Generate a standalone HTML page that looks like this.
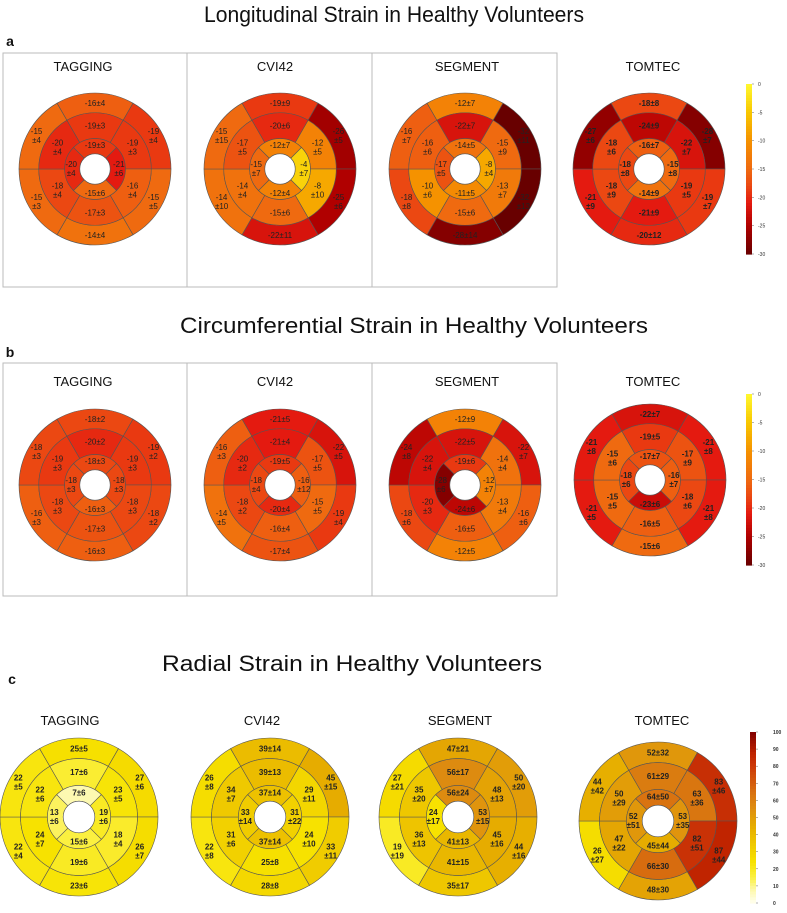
<!DOCTYPE html>
<html><head><meta charset="utf-8"><style>
body{margin:0;background:#fff;}
svg{display:block;font-family:"Liberation Sans",sans-serif;}
</style></head><body>
<svg id="fig" width="787" height="913" viewBox="0 0 787 913" xmlns="http://www.w3.org/2000/svg"></svg>
<script>
// Order per plot: outer [top, upper-right, lower-right, bottom, lower-left, upper-left], middle same, inner [top, right, bottom, left]
const methods = ["TAGGING","CVI42","SEGMENT","TOMTEC"];
const longOuter = [
 [["-16","4"],["-19","4"],["-15","5"],["-14","4"],["-15","3"],["-15","4"]],
 [["-19","9"],["-26","5"],["-25","6"],["-22","11"],["-14","10"],["-15","15"]],
 [["-12","7"],["-32","11"],["-32","13"],["-28","14"],["-18","8"],["-16","7"]],
 [["-18","8"],["-28","7"],["-19","7"],["-20","12"],["-21","9"],["-27","6"]]];
const longMid = [
 [["-19","3"],["-19","3"],["-16","4"],["-17","3"],["-18","4"],["-20","4"]],
 [["-20","6"],["-12","5"],["-8","10"],["-15","6"],["-14","4"],["-17","5"]],
 [["-22","7"],["-15","9"],["-13","7"],["-15","6"],["-10","6"],["-16","6"]],
 [["-24","9"],["-22","7"],["-19","5"],["-21","9"],["-18","9"],["-18","6"]]];
const longInner = [
 [["-19","3"],["-21","6"],["-15","6"],["-20","4"]],
 [["-12","7"],["-4","7"],["-12","4"],["-15","7"]],
 [["-14","5"],["-8","4"],["-11","5"],["-17","5"]],
 [["-16","7"],["-15","8"],["-14","9"],["-18","8"]]];
const circOuter = [
 [["-18","2"],["-19","2"],["-18","2"],["-16","3"],["-16","3"],["-18","3"]],
 [["-21","5"],["-22","5"],["-19","4"],["-17","4"],["-14","5"],["-16","3"]],
 [["-12","9"],["-22","7"],["-16","6"],["-12","5"],["-18","6"],["-24","8"]],
 [["-22","7"],["-21","8"],["-21","8"],["-15","6"],["-21","5"],["-21","8"]]];
const circMid = [
 [["-20","2"],["-19","3"],["-18","3"],["-17","3"],["-18","3"],["-19","3"]],
 [["-21","4"],["-17","5"],["-15","5"],["-16","4"],["-18","2"],["-20","2"]],
 [["-22","5"],["-14","4"],["-13","4"],["-16","5"],["-20","3"],["-22","4"]],
 [["-19","5"],["-17","9"],["-18","6"],["-16","5"],["-15","5"],["-15","6"]]];
const circInner = [
 [["-18","3"],["-18","3"],["-16","3"],["-18","3"]],
 [["-19","5"],["-16","12"],["-20","4"],["-18","4"]],
 [["-19","6"],["-12","7"],["-24","6"],["-28","6"]],
 [["-17","7"],["-16","7"],["-23","6"],["-18","6"]]];
const radOuter = [
 [["25","5"],["27","6"],["26","7"],["23","6"],["22","4"],["22","5"]],
 [["39","14"],["45","15"],["33","11"],["28","8"],["22","8"],["26","8"]],
 [["47","21"],["50","20"],["44","16"],["35","17"],["19","19"],["27","21"]],
 [["52","32"],["83","46"],["87","44"],["48","30"],["26","27"],["44","42"]]];
const radMid = [
 [["17","6"],["23","5"],["18","4"],["19","6"],["24","7"],["22","6"]],
 [["39","13"],["29","11"],["24","10"],["25","8"],["31","6"],["34","7"]],
 [["56","17"],["48","13"],["45","16"],["41","15"],["36","13"],["35","20"]],
 [["61","29"],["63","36"],["82","51"],["66","30"],["47","22"],["50","29"]]];
const radInner = [
 [["7","6"],["19","6"],["15","6"],["13","6"]],
 [["37","14"],["31","22"],["37","14"],["33","14"]],
 [["56","24"],["53","15"],["41","13"],["24","17"]],
 [["64","50"],["53","35"],["45","44"],["52","51"]]];
const negTicks = ["0","-5","-10","-15","-20","-25","-30"];
const radTicks = ["100","90","80","70","60","50","40","30","20","10","0"];

const NS="http://www.w3.org/2000/svg";
const svg=document.getElementById('fig');
function mk(tag,attrs,parent){const e=document.createElementNS(NS,tag);for(const k in attrs)e.setAttribute(k,attrs[k]);(parent||svg).appendChild(e);return e;}
function lerpHex(a,b,t){const pa=[1,3,5].map(i=>parseInt(a.substr(i,2),16)),pb=[1,3,5].map(i=>parseInt(b.substr(i,2),16));return 'rgb('+pa.map((v,i)=>Math.round(v+(pb[i]-v)*t)).join(',')+')';}
function cmap(stops,v){if(v<=stops[0][0])return stops[0][1];for(let i=1;i<stops.length;i++){if(v<=stops[i][0]){const t=(v-stops[i-1][0])/(stops[i][0]-stops[i-1][0]);return lerpHex(stops[i-1][1],stops[i][1],t);}}return stops[stops.length-1][1];}
const negStops=[[0,"#fff830"],[5,"#f8c800"],[10,"#f59200"],[15,"#ef6a10"],[18,"#eb4812"],[21,"#e41a10"],[25,"#b00000"],[30,"#680000"]];
const radStops=[[0,"#fffff0"],[8,"#fdf8a8"],[15,"#fbf040"],[24,"#f7e200"],[33,"#f0cc00"],[45,"#e6ac00"],[55,"#de8e10"],[65,"#d87010"],[80,"#cc3808"],[87,"#c02400"],[100,"#800000"]];
function colorFor(kind,v){return kind==='rad'?cmap(radStops,v):cmap(negStops,-v);}

function arcPath(cx,cy,r1,r2,a1,a2){const p=(r,a)=>[cx+r*Math.cos(a*Math.PI/180),cy-r*Math.sin(a*Math.PI/180)];
 const [x1,y1]=p(r2,a1),[x2,y2]=p(r2,a2),[x3,y3]=p(r1,a2),[x4,y4]=p(r1,a1);
 return `M${x1},${y1} A${r2},${r2} 0 0 0 ${x2},${y2} L${x3},${y3} A${r1},${r1} 0 0 1 ${x4},${y4} Z`;}

function label(g,x,y,d,bold,twoLine){const t=mk('text',{x:x,y:y,'text-anchor':'middle','font-size':'8','fill':'#222','font-weight':bold?'bold':'normal'},g);
 if(twoLine){t.setAttribute('y',y-2);const s1=mk('tspan',{x:x,dy:'0'},t);s1.textContent=d[0];const s2=mk('tspan',{x:x,dy:'9'},t);s2.textContent='±'+d[1];}
 else{t.setAttribute('y',y+3);t.textContent=d[0]+'±'+d[1];}}

function bullseye(cx,cy,R,outer,mid,inner,kind,bold,name){
 const g=mk('g',{});
 
 
 const r1=R*0.74,r0=R*0.40,rh=R*0.20;
 const centers6=[90,30,-30,-90,-150,150];
 for(let i=0;i<6;i++){const a=centers6[i];
  const p=mk('path',{d:arcPath(cx,cy,r1,R,a-30,a+30),fill:colorFor(kind,+outer[i][0]),stroke:'#555','stroke-width':'0.6'},g);
  
  
  const q=mk('path',{d:arcPath(cx,cy,r0,r1,a-30,a+30),fill:colorFor(kind,+mid[i][0]),stroke:'#555','stroke-width':'0.6'},g);
  
  }
 const centers4=[90,0,-90,180];
 for(let i=0;i<4;i++){const a=centers4[i];
  const p=mk('path',{d:arcPath(cx,cy,rh,r0,a-45,a+45),fill:colorFor(kind,+inner[i][0]),stroke:'#555','stroke-width':'0.6'},g);
  
  }
 mk('circle',{cx:cx,cy:cy,r:rh,fill:'#fff',stroke:'#555','stroke-width':'0.6'},g);
 for(let i=0;i<6;i++){const a=centers6[i]*Math.PI/180;const two=(i!==0&&i!==3);
  const ro=(R+r1)/2,rm=(r1+r0)/2;
  label(g,cx+ro*Math.cos(a)*(two?1.02:1),cy-ro*Math.sin(a),outer[i],bold,two);
  label(g,cx+rm*Math.cos(a),cy-rm*Math.sin(a),mid[i],bold,two);}
 for(let i=0;i<4;i++){const a=centers4[i]*Math.PI/180;const two=(i===1||i===3);const ri=(r0+rh)/2+1;
  label(g,cx+ri*Math.cos(a),cy-ri*Math.sin(a),inner[i],bold,two);}
}
function txt(x,y,s,size,name,extra){const t=mk('text',Object.assign({x:x,y:y,'text-anchor':'middle','font-size':size,fill:'#111'},extra||{}));t.textContent=s;
 
 return t;}
function colorbar(x,y0,y1,kind,ticks,name,labelX,fs){
 const g=mk('g',{});
 
 
 const n=60;for(let i=0;i<n;i++){const t=i/n;const v=kind==='rad'?100*(1-t-0.5/n):-30*(t+0.5/n);
  mk('rect',{x:x,y:y0+(y1-y0)*t,width:6,height:(y1-y0)/n+0.6,fill:colorFor(kind,v)},g);}
 ticks.forEach((s,i)=>{const yy=y0+(y1-y0)*i/(ticks.length-1);mk('line',{x1:x+6,x2:x+8,y1:yy,y2:yy,stroke:'#666','stroke-width':'0.5'},g);
  const t=mk('text',{x:labelX,y:yy+2,'font-size':fs,fill:'#333','font-weight':kind==='rad'?'bold':'normal'},g);t.textContent=s;});
}

// titles
txt(394,22,"Longitudinal Strain in Healthy Volunteers",22,'title-longitudinal',{textLength:380,lengthAdjust:'spacingAndGlyphs'});
txt(414,333,"Circumferential Strain in Healthy Volunteers",22,'title-circumferential',{textLength:468,lengthAdjust:'spacingAndGlyphs'});
txt(352,671,"Radial Strain in Healthy Volunteers",22,'title-radial',{textLength:380,lengthAdjust:'spacingAndGlyphs'});
txt(10,46,"a",14,'panel-label-a',{'font-weight':'bold'});
txt(10,357,"b",14,'panel-label-b',{'font-weight':'bold'});
txt(12,684,"c",14,'panel-label-c',{'font-weight':'bold'});

// boxes
[[53,287],[363,596]].forEach((b,k)=>{
 const r=mk('rect',{x:3,y:b[0],width:554,height:b[1]-b[0],fill:'none',stroke:'#bbb','stroke-width':'1'});
 
 
 [187,372].forEach(x=>mk('line',{x1:x,x2:x,y1:b[0],y2:b[1],stroke:'#bbb','stroke-width':'1'}));
});

const aCx=[95,280,465,649], aTx=[83,275,467,653];
for(let i=0;i<4;i++){
 txt(aTx[i],71,methods[i],13,'long-title-'+methods[i].toLowerCase());
 bullseye(aCx[i],169,76,longOuter[i],longMid[i],longInner[i],'neg',i===3,'long-bullseye-'+methods[i].toLowerCase());
 txt(aTx[i],386,methods[i],13,'circ-title-'+methods[i].toLowerCase());
 bullseye(i===3?650:aCx[i],i===3?480:485,76,circOuter[i],circMid[i],circInner[i],'neg',i===3,'circ-bullseye-'+methods[i].toLowerCase());
}
const cCx=[79,270,458,658], cTx=[70,262,460,662];
for(let i=0;i<4;i++){
 txt(cTx[i],725,methods[i],13,'rad-title-'+methods[i].toLowerCase());
 bullseye(cCx[i],i===3?821:817,79,radOuter[i],radMid[i],radInner[i],'rad',true,'rad-bullseye-'+methods[i].toLowerCase());
}
colorbar(746,84,254,'neg',negTicks,'long-colorbar',758,5);
colorbar(746,394,565,'neg',negTicks,'circ-colorbar',758,5);
colorbar(750,732,903,'rad',radTicks,'rad-colorbar',773,5);
</script>
</body></html>
